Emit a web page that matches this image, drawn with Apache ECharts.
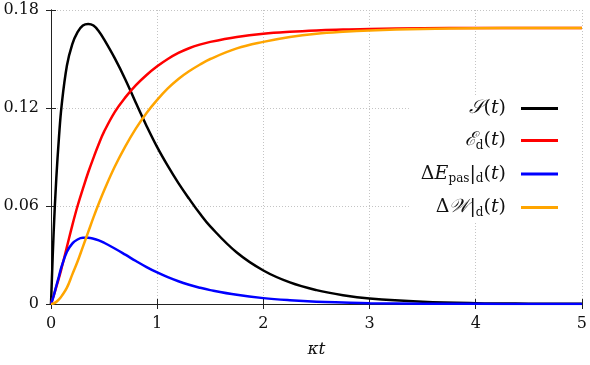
<!DOCTYPE html>
<html>
<head>
<meta charset="utf-8">
<script src="https://cdn.jsdelivr.net/npm/echarts@6/dist/echarts.min.js"></script>
<style>
  html, body { margin: 0; padding: 0; background: #fff; }
  #main { width: 590px; height: 365px; }
</style>
</head>
<body>
<div id="main"></div>
<script>
// kappa*t sample points, shared by all four curves
var kt = [0, 0.025, 0.05, 0.075, 0.1, 0.15, 0.2, 0.25, 0.3, 0.35, 0.4, 0.45, 0.5, 0.6, 0.7, 0.8,
          0.9, 1.0, 1.1, 1.2, 1.3, 1.4, 1.5, 1.75, 2.0, 2.25, 2.5, 2.75, 3.0, 3.5, 4.0, 4.5, 5.0];

// S(t)
var sVals = [0, 0.044, 0.077, 0.102, 0.1215, 0.146, 0.159, 0.1665, 0.1705, 0.1715, 0.1705, 0.167, 0.162, 0.1505, 0.1375, 0.123,
             0.109, 0.096, 0.0845, 0.074, 0.0645, 0.0555, 0.0475, 0.0315, 0.0205, 0.0132, 0.0085, 0.0054, 0.0034, 0.0014, 0.0005, 0.0002, 0.0001];
// E_d(t)
var eVals = [0, 0.005, 0.0105, 0.016, 0.022, 0.035, 0.048, 0.060, 0.0705, 0.0805, 0.0895, 0.098, 0.1055, 0.1175, 0.1265, 0.134,
             0.1402, 0.1455, 0.150, 0.1537, 0.1566, 0.1588, 0.1605, 0.1635, 0.1655, 0.1667, 0.1675, 0.168, 0.1684, 0.1688, 0.169, 0.169, 0.169];
// Delta E_pas|_d(t)
var pVals = [0, 0.005, 0.011, 0.017, 0.023, 0.032, 0.037, 0.0395, 0.0405, 0.0405, 0.040, 0.039, 0.0375, 0.034, 0.0302, 0.0263,
             0.0226, 0.0193, 0.0164, 0.0139, 0.0118, 0.010, 0.0085, 0.0056, 0.0036, 0.0023, 0.0014, 0.0009, 0.0005, 0.0002, 0.0001, 0, 0];
// Delta W|_d(t)
var wVals = [0, 0.0004, 0.0013, 0.0028, 0.0048, 0.010, 0.018, 0.026, 0.035, 0.044, 0.053, 0.0615, 0.0695, 0.084, 0.0965, 0.1075,
             0.117, 0.125, 0.132, 0.1378, 0.1425, 0.1465, 0.150, 0.1565, 0.1605, 0.1635, 0.1655, 0.1667, 0.1675, 0.1684, 0.1688, 0.169, 0.169];

var xTicks = [0, 1, 2, 3, 4, 5];
var yTicks = [0, 0.06, 0.12, 0.18];

var names = ['S', 'E', 'P', 'W'];
var colors = ['#000000', '#ff0000', '#0000ff', '#ffa500'];
var legendText = {
    S: '{cal|𝒮}{n|(}{it|t}{n|)}',
    E: '{cal|ℰ}{sub|d}{n|(}{it|t}{n|)}',
    P: '{n|Δ}{it|E}{sub|pas}{n||}{sub|d}{n|(}{it|t}{n|)}',
    W: '{n|Δ}{cal|𝒲}{n||}{sub|d}{n|(}{it|t}{n|)}'
};

function pairs(xs, ys) {
    var res = [];
    for (var i = 0; i < xs.length; i++) {
        res.push([xs[i], ys[i]]);
    }
    return res;
}

var font = 'DejaVu Serif';
var seriesVals = [sVals, eVals, pVals, wVals];
var series = [];
for (var i = 0; i < names.length; i++) {
    series.push({
        name: names[i],
        type: 'line',
        data: pairs(kt, seriesVals[i]),
        showSymbol: false,
        smooth: 0.4,
        lineStyle: { color: colors[i], width: 2.5 },
        itemStyle: { color: colors[i] },
        z: 3
    });
}

var splitStyle = { show: true, lineStyle: { color: '#c4c4c4', type: [1, 2], width: 1 } };
var axisLine = { show: true, lineStyle: { color: '#222', width: 1 } };

var dom = document.getElementById('main');
var myChart = echarts.init(dom);
var option = {
    animation: false,
    backgroundColor: '#fff',
    grid: { left: 51, right: 5, top: 10, bottom: 61 },
    legend: {
        data: names,
        orient: 'vertical',
        right: 10,
        top: 95,
        align: 'right',
        icon: 'rect',
        itemWidth: 37,
        itemHeight: 3,
        itemGap: 13,
        padding: [4, 22, 4, 12],
        backgroundColor: '#fff',
        formatter: function (name) { return legendText[name]; },
        textStyle: {
            padding: [0, 10, 0, 0],
            rich: {
                n: { fontFamily: font, fontSize: 19, color: '#111', lineHeight: 22 },
                it: { fontFamily: font, fontStyle: 'italic', fontSize: 19, color: '#111', lineHeight: 22 },
                cal: { fontFamily: font, fontStyle: 'italic', fontSize: 19, color: '#111', lineHeight: 22 },
                sub: { fontFamily: font, fontSize: 12, color: '#111', lineHeight: 11, verticalAlign: 'bottom' }
            }
        }
    },
    xAxis: [{
        type: 'value',
        min: 0, max: 5, interval: 1,
        name: 'κt',
        nameLocation: 'middle',
        nameGap: 37,
        nameTextStyle: { fontFamily: font, fontStyle: 'italic', fontSize: 17, color: '#111' },
        axisLine: axisLine,
        axisTick: { show: true, inside: true, length: 5, lineStyle: { color: '#222' } },
        axisLabel: {
            fontFamily: font, fontSize: 16, color: '#111', margin: 12,
            formatter: function (v) { return xTicks.indexOf(v) >= 0 ? String(v) : ''; }
        },
        splitLine: splitStyle
    }, {
        type: 'value', position: 'top',
        min: 0, max: 5, interval: 1,
        axisLine: axisLine,
        axisTick: { show: true, inside: true, length: 5, lineStyle: { color: '#222' } },
        axisLabel: { show: false },
        splitLine: { show: false }
    }],
    yAxis: [{
        type: 'value',
        min: 0, max: 0.18, interval: 0.06,
        axisLine: axisLine,
        axisTick: { show: true, inside: true, length: 5, lineStyle: { color: '#222' } },
        axisLabel: {
            fontFamily: font, fontSize: 16, color: '#111', margin: 12,
            formatter: function (v) {
                for (var k = 0; k < yTicks.length; k++) {
                    if (Math.abs(yTicks[k] - v) < 1e-9) return String(yTicks[k]);
                }
                return '';
            }
        },
        splitLine: splitStyle
    }, {
        type: 'value', position: 'right',
        min: 0, max: 0.18, interval: 0.06,
        axisLine: axisLine,
        axisTick: { show: true, inside: true, length: 5, lineStyle: { color: '#222' } },
        axisLabel: { show: false },
        splitLine: { show: false }
    }],
    series: series
};

myChart.setOption(option, true);
</script>
</body>
</html>
